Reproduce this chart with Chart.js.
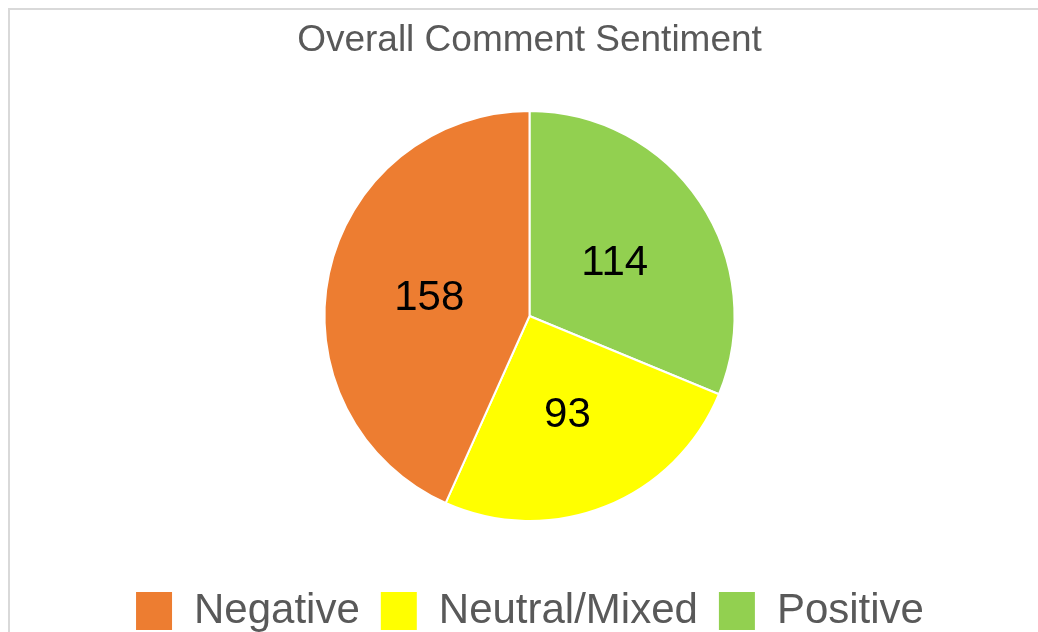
<!DOCTYPE html>
<html>
<head>
<meta charset="utf-8">
<script src="https://cdn.jsdelivr.net/npm/chart.js@4/dist/chart.umd.min.js"></script>
<style>
  html, body { margin: 0; padding: 0; background: #fff; overflow: hidden; }
  #box {
    position: absolute; left: 8px; top: 8px;
    width: 1039px; height: 632px;
    border: 2px solid #d9d9d9;
    background: #fff;
  }
</style>
</head>
<body>
<div id="box"><canvas id="myChart" width="1039" height="632"></canvas></div>
<script>
// sentiment counts, drawn clockwise from the top: Positive, Neutral/Mixed, Negative
const labels = ['Positive', 'Neutral/Mixed', 'Negative'];
const counts = [114, 93, 158];
const colors = ['#92D050', '#FFFF00', '#ED7D31'];

const font = "'Liberation Sans', Arial, sans-serif";

// writes the count in the middle of each slice
const sliceLabels = {
    id: 'sliceLabels',
    afterDatasetsDraw(chart) {
        const c = chart.ctx;
        const meta = chart.getDatasetMeta(0);
        c.save();
        c.font = '42px ' + font;
        c.fillStyle = '#000';
        c.textAlign = 'center';
        c.textBaseline = 'middle';
        meta.data.forEach((arc, i) => {
            const p = arc.getCenterPoint();
            c.fillText(String(counts[i]), p.x, p.y + 4);
        });
        c.restore();
    }
};

const ctx = document.getElementById("myChart").getContext("2d");
const myChart = new Chart(ctx, {
    type: "pie",
    data: {
        labels: labels,
        datasets: [
            {
                data: counts,
                backgroundColor: colors,
                borderColor: '#fff',
                borderWidth: 2,
                radius: 205,
            },
        ],
    },
    options: {
        responsive: false,
        animation: false,
        layout: { padding: 0 },
        plugins: {
            title: {
                display: true,
                text: 'Overall Comment Sentiment',
                color: '#595959',
                font: { family: font, size: 37, weight: 'normal', lineHeight: 1 },
                padding: { top: 12, bottom: 3 },
            },
            legend: {
                position: 'bottom',
                reverse: true,
                labels: {
                    boxWidth: 38,
                    boxHeight: 40,
                    padding: 20,
                    color: '#595959',
                    font: { family: font, size: 42 },
                },
            },
            tooltip: { enabled: false },
        },
    },
    plugins: [sliceLabels]
});
</script>
</body>
</html>
